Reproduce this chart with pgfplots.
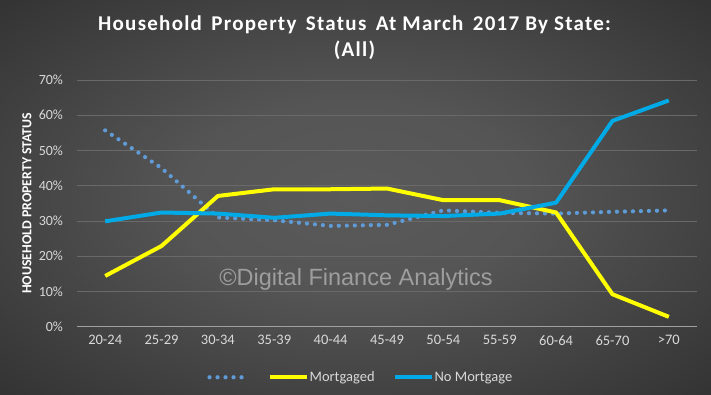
\documentclass[border=0pt]{standalone}
\usepackage{pgfplots}
\pgfplotsset{compat=1.18}
\usepackage{fontspec}
\setmainfont{Carlito}
\newfontfamily\arialfont{Liberation Sans}
\newfontfamily\titlefont[LetterSpace=6]{Carlito}
\definecolor{bgin}{RGB}{90,90,90}
\definecolor{bgout}{RGB}{30,30,30}
\definecolor{ticktext}{RGB}{217,217,217}
\definecolor{gridc}{RGB}{105,105,105}
\definecolor{axisc}{RGB}{160,160,160}
\definecolor{dotc}{RGB}{95,155,215}
\definecolor{yel}{RGB}{255,255,0}
\definecolor{blu}{RGB}{0,170,230}
\pgfdeclareradialshading{bgshade}{\pgfpoint{0bp}{0bp}}{color(0bp)=(bgin); color(12bp)=(bgin!92!bgout); color(50bp)=(bgout); color(80bp)=(bgout)}
\begin{document}
\begin{tikzpicture}
\useasboundingbox (0,0) rectangle (711pt,395pt);
\shade[shading=bgshade] (0,0) rectangle (711pt,395pt);
\node[text=white, font=\titlefont\fontsize{21}{26}\selectfont\bfseries, align=center, anchor=base] at (354.5pt,364pt)
  {Household\hspace{0.45em}Property\hspace{0.45em}Status\hspace{0.45em}At March\hspace{0.45em}2017 By State:};
\node[text=white, font=\titlefont\fontsize{21}{26}\selectfont\bfseries, anchor=base] at (354.5pt,338pt) {(All)};
\begin{axis}[
  at={(77pt,68.3pt)}, anchor=south west,
  width=620pt, height=246.7pt, scale only axis,
  xmin=-0.5, xmax=10.5, ymin=0, ymax=70,
  xtick={0,...,10},
  xticklabels={20-24,25-29,30-34,35-39,40-44,45-49,50-54,55-59,60-64,65-70,>70},
  ytick={0,10,...,70},
  yticklabels={0\%,10\%,20\%,30\%,40\%,50\%,60\%,70\%},
  /pgf/number format/assume math mode=true,
  ymajorgrids, grid style={gridc, line width=0.75pt},
  major tick length=0pt,
  axis line style={draw=none},
  tick label style={text=ticktext, font=\fontsize{14}{16}\selectfont},
  xticklabel style={yshift=-5pt, font=\fontsize{14.5}{16}\selectfont},
  yticklabel style={xshift=-10.5pt},
  ylabel={HOUSEHOLD PROPERTY STATUS},
  ylabel style={text=white, font=\fontsize{13.8}{15}\selectfont\bfseries, at={(axis description cs:-0.081,0.5)}, anchor=center},
  legend style={draw=none, fill=none, text=ticktext, font=\fontsize{14.5}{16}\selectfont,
    at={(axis description cs:0.457,-0.205)}, anchor=center, legend columns=-1,
    nodes={inner sep=1pt},
    /tikz/every even column/.append style={column sep=17pt}},
  legend image code/.code={\draw[#1] (0pt,0pt) -- (37pt,0pt);},
  clip=false,
]
\draw[axisc, line width=0.9pt] (rel axis cs:0,0) -- (rel axis cs:1,0);
\node[anchor=base west, text=white!62!black, font=\arialfont\fontsize{23.5}{26}\selectfont] at (rel axis cs:0.224,0.169) {\textcopyright Digital Finance Analytics};
\addplot[dotc, line width=4.2pt, line cap=round, dash pattern=on 0pt off 8pt] coordinates {
 (0,55.7) (1,45) (2,31) (3,30.2) (4,28.6) (5,28.9) (6,33) (7,32.3) (8,32.1) (9,32.6) (10,33)};
\addlegendentry{}
\addplot[yel, line width=4pt, line join=round] coordinates {
 (0,14.4) (1,22.9) (2,37.1) (3,39) (4,39) (5,39.2) (6,35.9) (7,35.9) (8,32.4) (9,9.2) (10,2.8)};
\addlegendentry{Mortgaged}
\addplot[blu, line width=4pt, line join=round] coordinates {
 (0,29.9) (1,32.4) (2,32.1) (3,30.9) (4,32.1) (5,31.6) (6,31.4) (7,32.1) (8,35.2) (9,58.4) (10,64.2)};
\addlegendentry{No Mortgage}
\end{axis}
\end{tikzpicture}
\end{document}
